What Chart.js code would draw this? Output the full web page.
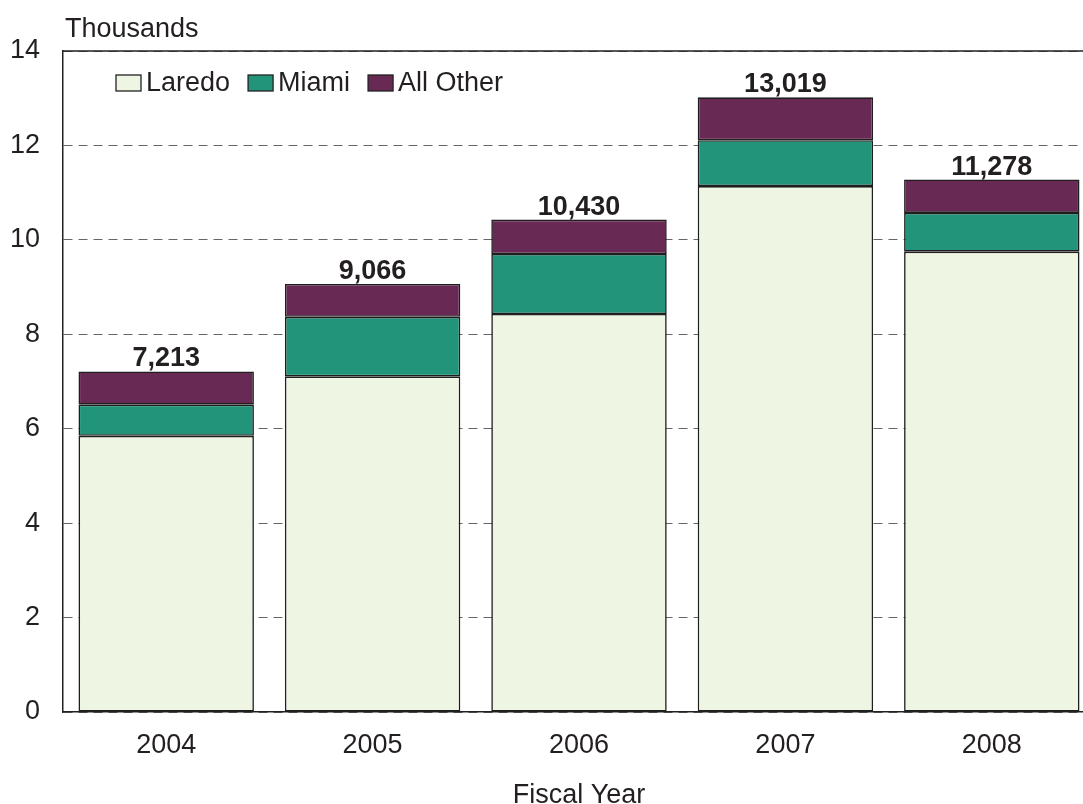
<!DOCTYPE html>
<html>
<head>
<meta charset="utf-8">
<script src="https://cdn.jsdelivr.net/npm/chart.js@4/dist/chart.umd.min.js"></script>
<style>
  html, body { margin: 0; padding: 0; background: #fff; overflow: hidden; }
  #clip { width: 1083px; height: 804px; overflow: hidden; position: relative; }
  #wrap { width: 1096px; height: 804px; position: absolute; left: 0; top: 0; }
</style>
</head>
<body>
<div id="clip"><div id="wrap"><canvas id="c"></canvas></div></div>
<script>
const categories = ['2004', '2005', '2006', '2007', '2008'];
const laredo   = [5850, 7110, 8430, 11140, 9750];
const miami    = [660, 1260, 1270, 970, 820];
const allOther = [703, 696, 730, 909, 708];
const yTicks   = [0, 2000, 4000, 6000, 8000, 10000, 12000, 14000];
const seriesNames = ['Laredo', 'Miami', 'All Other'];
const seriesColors = ['#EEF5E3', '#21947A', '#682A54'];
const unitLabel = 'Thousands';
const xTitle = 'Fiscal Year';

const totals = categories.map((_, i) => laredo[i] + miami[i] + allOther[i]);
const FONT = '"Liberation Sans", Arial, Helvetica, sans-serif';
const TXT = '#231f20';

const frame = {
  id: 'frame',
  afterDraw(chart) {
    const {ctx, chartArea: a} = chart;
    ctx.save();
    ctx.strokeStyle = '#222';
    ctx.lineWidth = 1.5;
    ctx.beginPath();
    ctx.moveTo(a.left, a.top);
    ctx.lineTo(a.right, a.top);
    ctx.stroke();
    ctx.fillStyle = TXT;
    ctx.font = '27px ' + FONT;
    ctx.textAlign = 'left';
    ctx.textBaseline = 'alphabetic';
    ctx.fillText(unitLabel, 65, 37);
    ctx.textAlign = 'center';
    ctx.fillText(xTitle, (a.left + a.right) / 2, 803);
    ctx.restore();
  }
};

const totalLabels = {
  id: 'totalLabels',
  afterDatasetsDraw(chart) {
    const {ctx} = chart;
    const meta = chart.getDatasetMeta(chart.data.datasets.length - 1);
    ctx.save();
    ctx.fillStyle = TXT;
    ctx.font = 'bold 27px ' + FONT;
    ctx.textAlign = 'center';
    ctx.textBaseline = 'alphabetic';
    meta.data.forEach((bar, i) => {
      ctx.fillText(totals[i].toLocaleString('en-US'), bar.x, bar.y - 5);
    });
    ctx.restore();
  }
};

const insideLegend = {
  id: 'insideLegend',
  afterDraw(chart) {
    const {ctx} = chart;
    ctx.save();
    ctx.font = '27px ' + FONT;
    ctx.textBaseline = 'middle';
    ctx.textAlign = 'left';
    let x = 116;
    const yMid = 83;
    chart.data.datasets.forEach(ds => {
      ctx.fillStyle = ds.backgroundColor;
      ctx.fillRect(x, yMid - 8, 25, 16);
      ctx.strokeStyle = '#222';
      ctx.lineWidth = 1.3;
      ctx.strokeRect(x, yMid - 8, 25, 16);
      ctx.fillStyle = TXT;
      ctx.fillText(ds.label, x + 30, yMid + 1);
      x += 30 + ctx.measureText(ds.label).width + 18;
    });
    ctx.restore();
  }
};

const datasets = [laredo, miami, allOther].map((d, k) => ({
  label: seriesNames[k],
  data: d,
  backgroundColor: seriesColors[k],
  borderColor: '#1e1e1e',
  borderWidth: 1.6,
  borderSkipped: false,
  barPercentage: 0.85,
  categoryPercentage: 1.0
}));

new Chart(document.getElementById('c'), {
  type: 'bar',
  data: { labels: categories, datasets },
  plugins: [frame, totalLabels, insideLegend],
  options: {
    responsive: true,
    maintainAspectRatio: false,
    animation: false,
    devicePixelRatio: 1,
    layout: { padding: { top: 51, right: 1, left: 0, bottom: 0 } },
    plugins: { legend: { display: false }, tooltip: { enabled: false } },
    scales: {
      x: {
        stacked: true,
        grid: { display: false, drawTicks: false },
        border: { display: true, color: '#222', width: 1.5 },
        ticks: { color: TXT, font: { family: FONT, size: 27 }, padding: 17 },
        afterFit(s) { s.height = 92; }
      },
      y: {
        stacked: true,
        min: 0, max: 14000,
        afterBuildTicks(s) { s.ticks = yTicks.map(v => ({ value: v })); },
        grid: { color: '#666', lineWidth: 1, drawTicks: false },
        border: { display: true, color: '#222', width: 1.5, dash: [9, 6] },
        ticks: { color: TXT, font: { family: FONT, size: 27 }, padding: 23,
                 callback: v => String(v / 1000) },
        afterFit(s) { s.width = 63; }
      }
    }
  }
});
</script>
</body>
</html>
